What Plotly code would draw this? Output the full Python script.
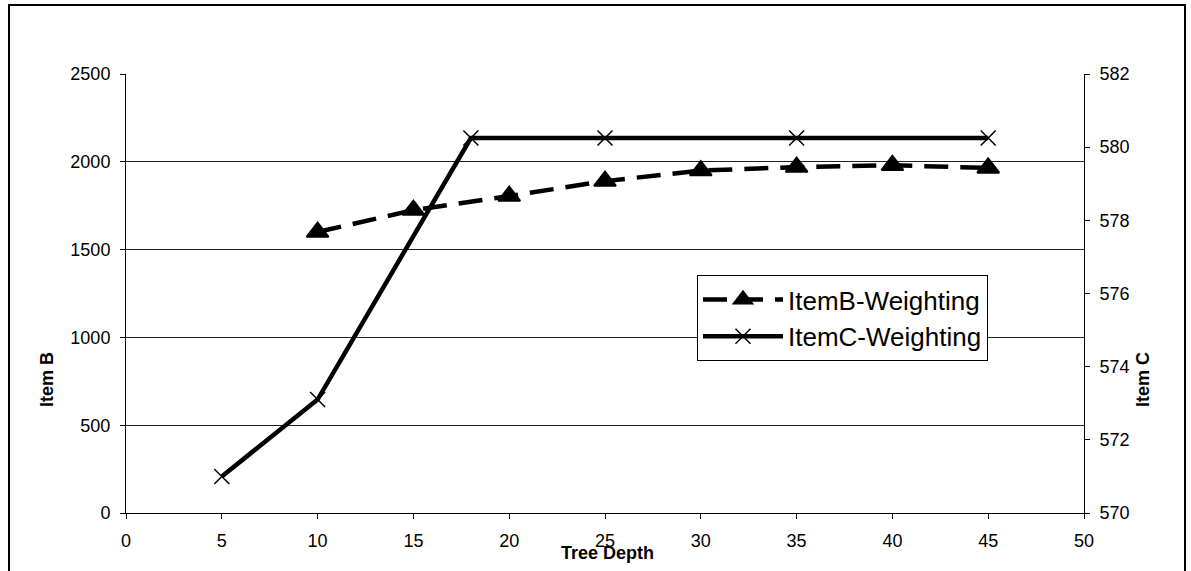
import plotly.graph_objects as go

depth_b = [10, 15, 20, 25, 30, 35, 40, 45]
item_b = [1600, 1725, 1805, 1890, 1950, 1970, 1980, 1965]

depth_c = [5, 10, 18, 25, 35, 45]
item_c = [571.0, 573.1, 580.25, 580.25, 580.25, 580.25]

x_ticks = [0, 5, 10, 15, 20, 25, 30, 35, 40, 45, 50]
yb_ticks = [0, 500, 1000, 1500, 2000, 2500]
yc_ticks = [570, 572, 574, 576, 578, 580, 582]

FONT = "Liberation Sans, Arial, sans-serif"

fig = go.Figure()
fig.add_trace(go.Scatter(
    x=depth_b, y=item_b, name="ItemB-Weighting", mode="lines+markers",
    line=dict(color="black", width=4.5, dash="24px,12px"),
    marker=dict(symbol="triangle-up", size=19, color="black",
                line=dict(color="black", width=2)),
    yaxis="y",
))
fig.add_trace(go.Scatter(
    x=depth_c, y=item_c, name="ItemC-Weighting", mode="lines+markers",
    line=dict(color="black", width=4.5),
    marker=dict(symbol="x-thin-open", size=15, color="black",
                line=dict(color="black", width=1.5)),
    yaxis="y2",
))

L, R, T, B = 126, 107, 74, 58
W, H = 1191, 571
pw, ph = W - L - R, H - T - B

def px(x):
    return (x - L) / pw

def py(y):
    return (H - B - y) / ph

fig.update_layout(
    width=W, height=H,
    margin=dict(l=L, r=R, t=T, b=B),
    paper_bgcolor="white", plot_bgcolor="white",
    font=dict(family=FONT, size=18, color="black"),
    showlegend=True,
    legend=dict(
        x=px(697), y=py(275), xanchor="left", yanchor="top",
        bgcolor="white", bordercolor="black", borderwidth=1,
        font=dict(size=26, family=FONT), itemwidth=80,
        tracegroupgap=0,
    ),
    xaxis=dict(
        range=[0, 50], tickvals=x_ticks, ticktext=[str(v) for v in x_ticks],
        showgrid=False, zeroline=False, showline=True, linecolor="black",
        linewidth=1, ticks="outside", ticklen=5, tickcolor="black",
        tickfont=dict(size=18), ticklabelstandoff=6,
    ),
    yaxis=dict(
        range=[0, 2500], tickvals=yb_ticks, ticktext=[str(v) for v in yb_ticks],
        showgrid=True, gridcolor="#222222", gridwidth=1, zeroline=False,
        showline=True, linecolor="black", linewidth=1, ticks="outside",
        ticklen=5, tickcolor="black", tickfont=dict(size=18),
        ticklabelstandoff=6,
    ),
    yaxis2=dict(
        range=[570, 582], tickvals=yc_ticks, ticktext=[str(v) for v in yc_ticks],
        overlaying="y", side="right", showgrid=False, zeroline=False,
        showline=True, linecolor="black", linewidth=1, ticks="outside",
        ticklen=5, tickcolor="black", tickfont=dict(size=18),
        ticklabelstandoff=6,
    ),
    annotations=[
        dict(text="<b>Item B</b>", x=px(47), y=py(380), xref="paper", yref="paper",
             xanchor="center", yanchor="middle",
             textangle=-90, showarrow=False, font=dict(size=18)),
        dict(text="<b>Item C</b>", x=px(1143), y=py(380), xref="paper", yref="paper",
             xanchor="center", yanchor="middle",
             textangle=-90, showarrow=False, font=dict(size=18)),
        dict(text="<b>Tree Depth</b>", x=px(607), y=py(553), xref="paper", yref="paper",
             xanchor="center", yanchor="middle",
             showarrow=False, font=dict(size=18)),
    ],
    shapes=[
        dict(type="rect", xref="paper", yref="paper",
             x0=px(9), x1=px(1185), y0=py(590), y1=py(5),
             line=dict(color="black", width=2), layer="below"),
    ],
)

fig.write_html("out.html")
